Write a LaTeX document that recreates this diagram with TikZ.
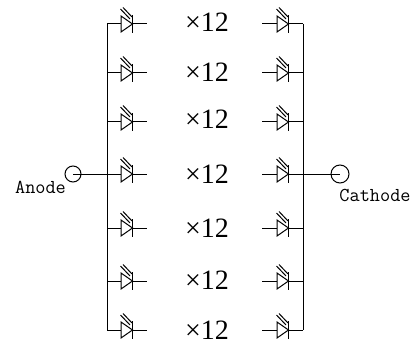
\documentclass[tikz,border=0pt]{standalone}
\usepackage{fontspec}
\setmainfont{Liberation Serif}
\tikzset{every picture/.style={line width=0.75pt}}
\tikzset{
  led/.pic={
    \draw (0,8) -- (0,-8) -- (11.5,0) -- cycle;
    \draw (11.5,9) -- (11.5,-9);
    \draw (-0.5,15) -- (9,5) (2,16.5) -- (11,7);
    \coordinate (-in) at (0,0);
    \coordinate (-out) at (11.5,0);
  },
  countlabel/.style={inner sep=0pt,font=\fontsize{21}{21}\selectfont},
  termlabel/.style={inner sep=0pt,font=\ttfamily\fontsize{14.8}{14.8}\selectfont},
  terminal/.style={draw,circle,inner sep=0pt}
}
\begin{document}
\begin{tikzpicture}[x=0.75pt,y=0.75pt,yscale=-1,xscale=1]
\useasboundingbox (0,0) rectangle (416,345);

\foreach \i/\y/\t in {1/24/22,2/73/72,3/122/119,4/174/174,5/228/228,6/281/280,7/330/330}{
  \coordinate (bl\i) at (107,\y);
  \coordinate (br\i) at (303,\y);
  \coordinate (el\i) at (147,\y);
  \coordinate (er\i) at (262,\y);
  \pic (dl\i) at (121,\y) {led};
  \pic (dr\i) at (277,\y) {led};
  \draw (bl\i) -- (dl\i-in) (dl\i-out) -- (el\i);
  \draw (er\i) -- (dr\i-in) (dr\i-out) -- (br\i);
  \node [countlabel] (n\i) at (207,\t) {×12};
}
%buses
\draw (bl1) -- (bl7);
\draw (br1) -- (br7);

%terminals
\node [terminal,minimum size=12pt] (anode) at (73,174) {};
\node [terminal,minimum size=13.5pt] (cathode) at (340,174) {};
\draw (anode.center) -- (bl4);
\draw (br4) -- (cathode.center);
\node [termlabel] (anodetext) at (40.5,187.5) {Anode};
\node [termlabel] (cathodetext) at (375,195) {Cathode};
\end{tikzpicture}
\end{document}
